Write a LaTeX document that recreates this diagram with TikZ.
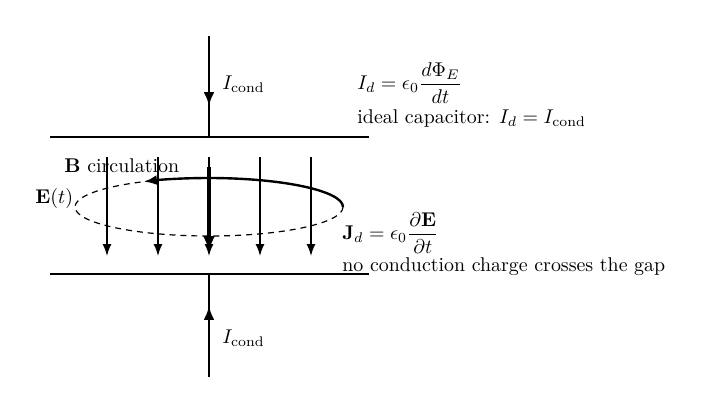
\documentclass[tikz,border=0pt]{standalone}
\usetikzlibrary{arrows.meta}
\begin{document}
\begin{tikzpicture}[x=0.01765cm,y=-0.01765cm,
  plate/.style={line width=1.1pt},
  wire/.style={line width=0.9pt},
  warrow/.style={line width=1.4pt,-{Latex[length=7pt,width=5.5pt]}},
  efield/.style={line width=0.75pt,-{Latex[length=6pt,width=4.5pt]}},
  jfield/.style={line width=1.7pt,-{Latex[length=8pt,width=6pt]}},
  loopd/.style={line width=0.6pt,dash pattern=on 3pt off 2.5pt},
  loops/.style={line width=1.2pt,-{Latex[length=6.5pt,width=5pt]}},
  lbl/.style={inner sep=0pt,anchor=west}]
\useasboundingbox (0,0) rectangle (702,414);
% plates
\coordinate (tl) at (50,137); \coordinate (tr) at (369,137);
\coordinate (bl) at (50,274); \coordinate (br) at (369,274);
\draw[plate] (tl) -- (tr);
\draw[plate] (bl) -- (br);
% wires
\coordinate (wt) at (209,36); \coordinate (wtc) at (209,137);
\coordinate (wb) at (209,377); \coordinate (wbc) at (209,274);
\coordinate (wta) at (209,65); \coordinate (wtb) at (209,106);
\coordinate (wba) at (209,352); \coordinate (wbb) at (209,306);
\draw[wire] (wt) -- (wtc);
\draw[wire] (wb) -- (wbc);
\draw[warrow] (wta) -- (wtb);
\draw[warrow] (wba) -- (wbb);
\node[lbl] (ic1) at (222,84) {$I_{\mathrm{cond}}$};
\node[lbl] (ic2) at (222,338) {$I_{\mathrm{cond}}$};
% E field arrows
\foreach \x/\n in {107/a,158/b,209/c,260/d,311/e}{
  \coordinate (e\n1) at (\x,157); \coordinate (e\n2) at (\x,256);
  \draw[efield] (e\n1) -- (e\n2);
}
\coordinate (j1) at (209,167); \coordinate (j2) at (209,252);
\draw[jfield] (j1) -- (j2);
% loop
\coordinate (lc) at (209,207);
\draw[loopd] (lc) ellipse [x radius=134, y radius=29];
\draw[loops] (343,207) arc[start angle=0, end angle=-119, x radius=134, y radius=29];
% labels
\node[lbl] (bc) at (64,166) {$\mathbf{B}$ circulation};
\node[lbl] (et) at (35,199) {$\mathbf{E}(t)$};
\node[lbl] (id) at (357,83) {$I_d=\epsilon_0\displaystyle\frac{d\Phi_E}{dt}$};
\node[lbl] (ic) at (357,119) {ideal capacitor: $I_d=I_{\mathrm{cond}}$};
\node[lbl] (jd) at (342,233) {$\mathbf{J}_d=\epsilon_0\displaystyle\frac{\partial\mathbf{E}}{\partial t}$};
\node[lbl] (nc) at (342,267) {no conduction charge crosses the gap};
\end{tikzpicture}
\end{document}
